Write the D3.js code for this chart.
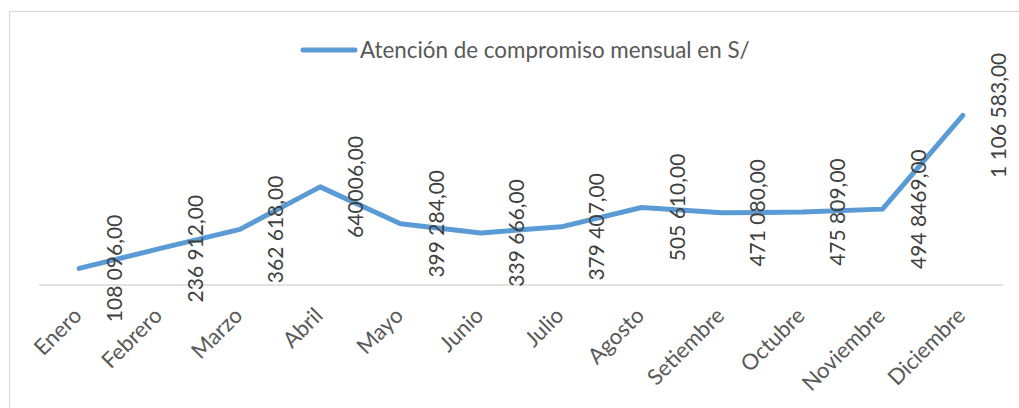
<!DOCTYPE html>
<html><head><meta charset="utf-8">
<script src="https://cdn.jsdelivr.net/npm/d3@7"></script>
<style>body{margin:0;background:#fff}svg{display:block}</style>
</head><body>
<script>
const months = ["Enero","Febrero","Marzo","Abril","Mayo","Junio","Julio","Agosto","Setiembre","Octubre","Noviembre","Diciembre"];
const values = [108096,236912,362618,640006,399284,339666,379407,505610,471080,475809,494846,1106583];
const valueLabels = ["108 096,00","236 912,00","362 618,00","640006,00","399 284,00","339 666,00","379 407,00","505 610,00","471 080,00","475 809,00","494 8469,00","1 106 583,00"];
const seriesName = "Atención de compromiso mensual en S/";

const W = 1019, H = 408;
const svg = d3.select("body").append("svg").attr("width", W).attr("height", H);
const font = "Lato, 'Open Sans', sans-serif";

svg.append("rect").attr("x", 9.5).attr("y", 11.5).attr("width", 1030).attr("height", 420)
  .attr("fill", "#fff").attr("stroke", "#d9d9d9").attr("stroke-width", 1.2);

const x = d3.scaleBand().domain(months).range([39, 1003]);
const y = d3.scaleLinear().domain([0, 1200000]).range([285, 101]);
const cx = m => x(m) + x.bandwidth() / 2;

// axis line
svg.append("line").attr("x1", 39).attr("x2", 1003).attr("y1", y(0)).attr("y2", y(0))
  .attr("stroke", "#d9d9d9").attr("stroke-width", 1.5);

// category labels
svg.append("g").selectAll("text").data(months).join("text")
  .attr("transform", d => `translate(${cx(d) + 4},${y(0) + 32}) rotate(-45)`)
  .attr("text-anchor", "end")
  .attr("font-family", font).attr("font-size", 22).attr("fill", "#595959")
  .text(d => d);

// line
const data = months.map((m, i) => ({m, v: values[i], label: valueLabels[i]}));
svg.append("path").datum(data)
  .attr("fill", "none").attr("stroke", "#5b9bd5").attr("stroke-width", 5)
  .attr("stroke-linejoin", "round").attr("stroke-linecap", "round")
  .attr("d", d3.line().x(d => cx(d.m)).y(d => y(d.v)));

// data labels
svg.append("g").selectAll("text").data(data).join("text")
  .attr("transform", d => `translate(${cx(d.m) + 43},${y(d.v)}) rotate(-90)`)
  .attr("text-anchor", "middle")
  .attr("font-family", font).attr("font-size", 21).attr("fill", "#404040")
  .text(d => d.label);

// legend
const lg = svg.append("g");
lg.append("line").attr("x1", 303).attr("x2", 355).attr("y1", 50).attr("y2", 50)
  .attr("stroke", "#5b9bd5").attr("stroke-width", 5).attr("stroke-linecap", "round");
lg.append("text").attr("x", 360).attr("y", 58)
  .attr("font-family", font).attr("font-size", 22.4).attr("fill", "#595959")
  .text(seriesName);
</script>
</body></html>
